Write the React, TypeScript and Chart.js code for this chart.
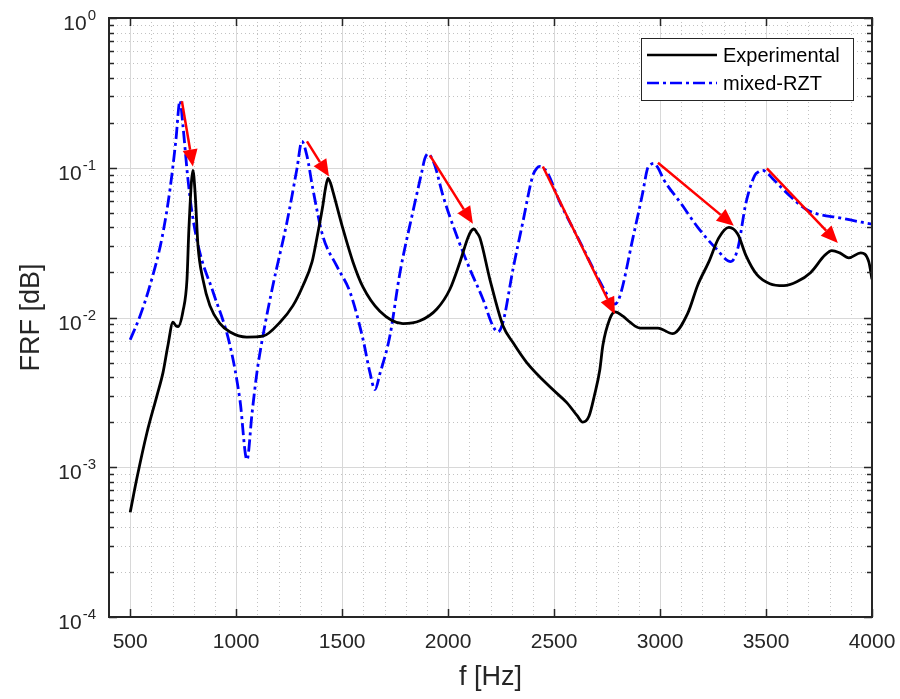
import React, { useEffect, useRef } from 'react';
import { Chart, registerables } from 'chart.js';

Chart.register(...registerables);

// ---------- data ----------
const expFreq = [500, 532, 579, 626, 655, 678, 702, 716, 726, 749, 768, 777, 796, 806, 820, 843, 876, 924, 971, 1050, 1126, 1207, 1268, 1315, 1358, 1381, 1409, 1420, 1433, 1445, 1457, 1504, 1551, 1598, 1678, 1787, 1867, 1947, 2009, 2056, 2093, 2110, 2122, 2135, 2150, 2197, 2259, 2306, 2371, 2494, 2560, 2610, 2635, 2665, 2690, 2716, 2730, 2763, 2787, 2825, 2858, 2905, 2990, 3060, 3131, 3178, 3230, 3277, 3325, 3367, 3405, 3457, 3518, 3584, 3645, 3711, 3777, 3810, 3848, 3890, 3947, 3985, 4000];
const expFRF = [0.0005, 0.00085, 0.0017, 0.0030, 0.0043, 0.0065, 0.0093, 0.0088, 0.0087, 0.011, 0.018, 0.039, 0.096, 0.069, 0.030, 0.018, 0.012, 0.0091, 0.0080, 0.0074, 0.0075, 0.0093, 0.012, 0.0163, 0.0235, 0.034, 0.056, 0.071, 0.085, 0.079, 0.069, 0.039, 0.0235, 0.016, 0.011, 0.0091, 0.0095, 0.0114, 0.0155, 0.0235, 0.034, 0.038, 0.039, 0.037, 0.034, 0.018, 0.0088, 0.0068, 0.0050, 0.0033, 0.0027, 0.0022, 0.0020, 0.0022, 0.0030, 0.0045, 0.0065, 0.0098, 0.0109, 0.0102, 0.0093, 0.0085, 0.0085, 0.0078, 0.0107, 0.0165, 0.0235, 0.034, 0.040, 0.036, 0.026, 0.0193, 0.0168, 0.0163, 0.0173, 0.020, 0.026, 0.028, 0.027, 0.025, 0.027, 0.0235, 0.018];

const rztFreq = [500, 546, 593, 650, 688, 715, 735, 749, 772, 791, 829, 891, 971, 1018, 1051, 1075, 1098, 1126, 1173, 1240, 1287, 1310, 1334, 1362, 1409, 1475, 1537, 1598, 1631, 1655, 1678, 1725, 1773, 1834, 1876, 1890, 1905, 1920, 1938, 1976, 2041, 2103, 2164, 2211, 2235, 2259, 2306, 2353, 2400, 2418, 2433, 2450, 2466, 2527, 2622, 2702, 2763, 2787, 2810, 2872, 2919, 2940, 2952, 2971, 2990, 3018, 3098, 3178, 3263, 3334, 3367, 3405, 3447, 3465, 3485, 3510, 3537, 3617, 3697, 3857, 4000];
const rztFRF = [0.0071, 0.0102, 0.0163, 0.034, 0.072, 0.15, 0.28, 0.19, 0.085, 0.051, 0.027, 0.0148, 0.0065, 0.0028, 0.00112, 0.0023, 0.0043, 0.0075, 0.0163, 0.0436, 0.099, 0.15, 0.12, 0.072, 0.035, 0.022, 0.0148, 0.0072, 0.0043, 0.0033, 0.0042, 0.0075, 0.020, 0.051, 0.094, 0.115, 0.124, 0.118, 0.103, 0.065, 0.035, 0.021, 0.0133, 0.0088, 0.0080, 0.0093, 0.021, 0.0436, 0.089, 0.099, 0.102, 0.099, 0.094, 0.059, 0.032, 0.019, 0.0133, 0.0123, 0.0138, 0.034, 0.069, 0.098, 0.104, 0.107, 0.100, 0.083, 0.058, 0.040, 0.029, 0.0236, 0.029, 0.058, 0.089, 0.094, 0.096, 0.091, 0.083, 0.064, 0.052, 0.046, 0.042];

// red arrows: from (f, FRF) to (f, FRF)
const arrowFromF = [744, 1334, 1914, 2447, 2990, 3504];
const arrowFromV = [0.278, 0.150, 0.121, 0.102, 0.108, 0.099];
const arrowToF = [796, 1438, 2117, 2787, 3348, 3839];
const arrowToV = [0.102, 0.0873, 0.0423, 0.0105, 0.0410, 0.0315];

const xTicks = [500, 1000, 1500, 2000, 2500, 3000, 3500, 4000];
const yTicks = [1e-4, 1e-3, 1e-2, 1e-1, 1];
const yTickExp = ['-4', '-3', '-2', '-1', '0'];
const seriesNames = ['Experimental', 'mixed-RZT'];
const xTitle = 'f [Hz]';
const yTitle = 'FRF [dB]';

const FONT = '"Liberation Sans", Arial, Helvetica, sans-serif';
const AXIS = '#262626';
const RZT_DASH = [12, 4, 3, 4];

const xMinor: number[] = [];
for (let f = 500; f < 4000; f += 100) if (f % 500 !== 0) xMinor.push(f);
const yMinor: number[] = [];
for (let d = -4; d < 0; d++) for (let m = 2; m <= 9; m++) yMinor.push(m * Math.pow(10, d));

const framePlugin = {
  id: 'frame',
  beforeDatasetsDraw(chart: any) {
    const { ctx, chartArea: a, scales } = chart;
    const x = scales.x, y = scales.y;
    ctx.save();
    ctx.lineWidth = 1;
    ctx.strokeStyle = '#c2c2c2';
    ctx.setLineDash([1, 3]);
    ctx.beginPath();
    for (const v of xMinor) {
      const px = Math.round(x.getPixelForValue(v)) + 0.5;
      ctx.moveTo(px, a.top); ctx.lineTo(px, a.bottom);
    }
    for (const v of yMinor) {
      const py = Math.round(y.getPixelForValue(v)) + 0.5;
      ctx.moveTo(a.left, py); ctx.lineTo(a.right, py);
    }
    ctx.stroke();
    ctx.setLineDash([]);
    ctx.strokeStyle = '#d8d8d8';
    ctx.beginPath();
    for (const v of xTicks) {
      const px = Math.round(x.getPixelForValue(v)) + 0.5;
      ctx.moveTo(px, a.top); ctx.lineTo(px, a.bottom);
    }
    for (const v of yTicks) {
      const py = Math.round(y.getPixelForValue(v)) + 0.5;
      ctx.moveTo(a.left, py); ctx.lineTo(a.right, py);
    }
    ctx.stroke();
    ctx.restore();
  },
  afterDatasetsDraw(chart: any) {
    const { ctx, chartArea: a, scales } = chart;
    const x = scales.x, y = scales.y;
    ctx.save();
    // arrows
    ctx.strokeStyle = '#ff0000';
    ctx.fillStyle = '#ff0000';
    ctx.lineWidth = 2.5;
    const headLen = 17, headHalf = 7.5;
    for (let i = 0; i < arrowFromF.length; i++) {
      const x0 = x.getPixelForValue(arrowFromF[i]);
      const y0 = y.getPixelForValue(arrowFromV[i]);
      const x1 = x.getPixelForValue(arrowToF[i]);
      const y1 = y.getPixelForValue(arrowToV[i]);
      const dx = x1 - x0, dy = y1 - y0;
      const len = Math.hypot(dx, dy);
      const ux = dx / len, uy = dy / len;
      const bx = x1 - ux * headLen, by = y1 - uy * headLen;
      ctx.beginPath();
      ctx.moveTo(x0, y0);
      ctx.lineTo(bx, by);
      ctx.stroke();
      ctx.beginPath();
      ctx.moveTo(x1, y1);
      ctx.lineTo(bx - uy * headHalf, by + ux * headHalf);
      ctx.lineTo(bx + uy * headHalf, by - ux * headHalf);
      ctx.closePath();
      ctx.fill();
    }
    // axes box
    ctx.strokeStyle = AXIS;
    ctx.lineWidth = 2;
    ctx.strokeRect(a.left, a.top, a.right - a.left, a.bottom - a.top);
    // tick marks (inward)
    ctx.lineWidth = 1.5;
    ctx.beginPath();
    for (const v of xTicks) {
      const px = Math.round(x.getPixelForValue(v)) + 0.5;
      ctx.moveTo(px, a.bottom); ctx.lineTo(px, a.bottom - 8);
      ctx.moveTo(px, a.top); ctx.lineTo(px, a.top + 8);
    }
    for (const v of yTicks) {
      const py = Math.round(y.getPixelForValue(v)) + 0.5;
      ctx.moveTo(a.left, py); ctx.lineTo(a.left + 8, py);
      ctx.moveTo(a.right, py); ctx.lineTo(a.right - 8, py);
    }
    for (const v of yMinor) {
      const py = Math.round(y.getPixelForValue(v)) + 0.5;
      ctx.moveTo(a.left, py); ctx.lineTo(a.left + 5, py);
      ctx.moveTo(a.right, py); ctx.lineTo(a.right - 5, py);
    }
    ctx.stroke();
    // y tick labels 10^n
    ctx.fillStyle = AXIS;
    ctx.textBaseline = 'alphabetic';
    ctx.textAlign = 'left';
    for (let i = 0; i < yTicks.length; i++) {
      const py = y.getPixelForValue(yTicks[i]);
      ctx.font = `15px ${FONT}`;
      const wExp = ctx.measureText(yTickExp[i]).width;
      ctx.font = `21px ${FONT}`;
      const wBase = ctx.measureText('10').width;
      const right = a.left - 13;
      const xb = right - wExp - 1 - wBase;
      ctx.fillText('10', xb, py + 12);
      ctx.font = `15px ${FONT}`;
      ctx.fillText(yTickExp[i], xb + wBase + 1, py + 2);
    }
    // legend
    const lx = a.right - 231, ly = a.top + 20, lw = 212, lh = 62;
    ctx.fillStyle = '#ffffff';
    ctx.fillRect(lx, ly, lw, lh);
    ctx.strokeStyle = AXIS;
    ctx.lineWidth = 1;
    ctx.strokeRect(lx + 0.5, ly + 0.5, lw, lh);
    const rows = [ly + 17, ly + 45];
    const colors = ['#000000', '#0000ff'];
    const dashes = [[], RZT_DASH];
    for (let i = 0; i < 2; i++) {
      ctx.strokeStyle = colors[i];
      ctx.lineWidth = 2.6;
      ctx.setLineDash(dashes[i]);
      ctx.beginPath();
      ctx.moveTo(lx + 6, rows[i]);
      ctx.lineTo(lx + 76, rows[i]);
      ctx.stroke();
      ctx.setLineDash([]);
      ctx.fillStyle = '#000000';
      ctx.font = `20px ${FONT}`;
      ctx.textBaseline = 'middle';
      ctx.textAlign = 'left';
      ctx.fillText(seriesNames[i], lx + 82, rows[i] + 1);
    }
    ctx.restore();
  },
};

export default function App() {
  const ref = useRef<HTMLCanvasElement | null>(null);
  useEffect(() => {
    if (!ref.current) return;
    const chart = new Chart(ref.current, {
      type: 'line',
      data: {
        datasets: [
          {
            label: seriesNames[0],
            data: expFreq.map((f, i) => ({ x: f, y: expFRF[i] })),
            borderColor: '#000000',
            borderWidth: 2.8,
            pointRadius: 0,
            cubicInterpolationMode: 'monotone',
            fill: false,
            order: 1,
          },
          {
            label: seriesNames[1],
            data: rztFreq.map((f, i) => ({ x: f, y: rztFRF[i] })),
            borderColor: '#0000ff',
            borderWidth: 2.8,
            borderDash: RZT_DASH,
            pointRadius: 0,
            cubicInterpolationMode: 'monotone',
            fill: false,
            order: 2,
          },
        ],
      },
      options: {
        animation: false,
        responsive: false,
        devicePixelRatio: 1,
        layout: { padding: { left: 0, right: 28, top: 18, bottom: 0 } },
        plugins: { legend: { display: false }, tooltip: { enabled: false } },
        scales: {
          x: {
            type: 'linear',
            min: 400,
            max: 4000,
            afterBuildTicks: (s: any) => { s.ticks = xTicks.map((v) => ({ value: v })); },
            afterFit: (s: any) => { s.height = 82; s.paddingLeft = 0; s.paddingRight = 0; },
            ticks: {
              font: { family: FONT, size: 21 },
              color: AXIS,
              padding: 13,
              maxRotation: 0,
              autoSkip: false,
              callback: (v: any) => String(v),
            },
            grid: { display: false, drawTicks: false },
            border: { display: false },
            title: {
              display: true,
              text: xTitle,
              font: { family: FONT, size: 27 },
              color: AXIS,
              padding: { top: 0, bottom: 5 },
            },
          },
          y: {
            type: 'logarithmic',
            min: 1e-4,
            max: 1,
            afterBuildTicks: (s: any) => { s.ticks = yTicks.map((v) => ({ value: v })); },
            afterFit: (s: any) => { s.width = 109; s.paddingTop = 0; s.paddingBottom = 0; },
            ticks: { display: false },
            grid: { display: false, drawTicks: false },
            border: { display: false },
            title: {
              display: true,
              text: yTitle,
              font: { family: FONT, size: 27 },
              color: AXIS,
              padding: { top: 15, bottom: 0 },
            },
          },
        },
      },
      plugins: [framePlugin],
    });
    return () => chart.destroy();
  }, []);
  return (
    <div style={{ position: 'fixed', left: 0, top: 0, width: 900, height: 699, background: '#ffffff' }}>
      <canvas ref={ref} width={900} height={699} style={{ display: 'block' }} />
    </div>
  );
}
